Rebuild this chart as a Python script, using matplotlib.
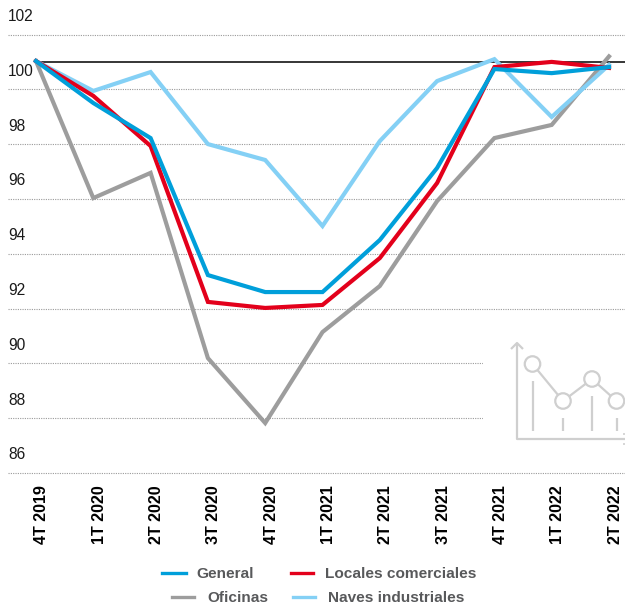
import matplotlib
matplotlib.use("Agg")
import matplotlib.pyplot as plt
from matplotlib.lines import Line2D
from matplotlib.patches import Ellipse, Rectangle

plt.rcParams['font.family'] = ['Liberation Sans', 'DejaVu Sans']

W, H, DPI = 625, 608, 100

periods = ['4T 2019', '1T 2020', '2T 2020', '3T 2020', '4T 2020', '1T 2021',
           '2T 2021', '3T 2021', '4T 2021', '1T 2022', '2T 2022']
general = [101.03, 99.5, 98.22, 93.22, 92.6, 92.6, 94.5, 97.13, 100.74, 100.59, 100.81]
locales = [101.03, 99.76, 97.93, 92.24, 92.02, 92.13, 93.84, 96.58, 100.81, 101.0, 100.78]
oficinas = [101.03, 96.03, 96.95, 90.19, 87.82, 91.14, 92.82, 95.92, 98.22, 98.7, 101.2]
naves = [101.03, 99.94, 100.63, 98.0, 97.42, 95.01, 98.11, 100.3, 101.1, 98.99, 100.89]
y_ticks = [102, 100, 98, 96, 94, 92, 90, 88, 86]
reference_level = 101

BLUE, RED, GREY, LIGHT = '#009fda', '#e3001b', '#9d9d9d', '#84d0f5'

fig = plt.figure(figsize=(W / DPI, H / DPI), dpi=DPI)
ax = fig.add_axes([0, 0, 1, 1])
# data <-> pixel mapping: x index i at 36 + 57.3 i, value v at 34.5 + (102 - v) * 27.4
ax.set_xlim(-36 / 57.3, (W - 36) / 57.3)
ax.set_ylim(102 - (H - 34.5) / 27.4, 102 + 34.5 / 27.4)
ax.axis('off')

def P(x, y):
    return (x / W, 1 - y / H)

for v in y_ticks:
    ax.plot([-28 / 57.3, (W - 36) / 57.3], [v, v], color='#9a9a9a', lw=0.8,
            ls=(0, (1, 1.1)), zorder=1)
    ax.annotate(str(v), (-28 / 57.3, v), xytext=(0, 10.5), textcoords='offset pixels',
                fontsize=11.2, color='#1a1a1a', ha='left', va='bottom')

# icon: white backing hides the gridlines
fig_tr = fig.transFigure
ax.add_patch(Rectangle(P(483, 445), 142 / W, 115 / H, transform=fig_tr, fc='white', ec='none', zorder=2))
ICON = '#cfcfcf'
def L(xs, ys, lw=1.6):
    ax.add_line(Line2D([x / W for x in xs], [1 - y / H for y in ys], transform=fig_tr,
                       color=ICON, lw=lw, zorder=3, solid_capstyle='butt'))
L([517, 517, 625], [344, 439, 439])
L([511, 517, 523], [349, 343, 349])
L([623, 625], [434, 434], lw=1.2)
L([623, 625], [444, 444], lw=1.2)
nodes = [(532.5, 364), (563, 401), (592, 379), (616.5, 401)]
L([n[0] for n in nodes], [n[1] for n in nodes])
for x, top, bot in [(532.5, 381, 431), (563, 418, 431), (592, 396, 431), (616.5, 418, 431)]:
    L([x, x], [top, bot])
for x, y in nodes:
    ax.add_patch(Ellipse((x / W, 1 - y / H), 15.5 / W, 15.5 / H,
                 transform=fig_tr, fc='white', ec=ICON, lw=1.6, zorder=4))

ax.plot([0, (W - 36) / 57.3], [reference_level] * 2, color='black', lw=1.1, zorder=5)

xs = list(range(len(periods)))
ax.plot(xs, oficinas, color=GREY, lw=3, zorder=6, solid_joinstyle='miter')
ax.plot(xs, naves, color=LIGHT, lw=3, zorder=6, solid_joinstyle='miter')
ax.plot(xs, locales, color=RED, lw=3, zorder=7, solid_joinstyle='miter')
ax.plot(xs, general, color=BLUE, lw=3, zorder=8, solid_joinstyle='miter')

for i, lab in enumerate(periods):
    ax.text(i + 6 / 57.3, 85.55, lab, rotation=90, ha='center', va='top',
            fontsize=11.6, fontweight='bold', color='black')

legend = [('General', BLUE, 162, 186, 196, 574), ('Locales comerciales', RED, 291, 313, 325, 574),
          ('Oficinas', GREY, 172, 194, 207, 598), ('Naves industriales', LIGHT, 293, 315, 328, 598)]
for name, c, x0, x1, tx, y in legend:
    ax.add_line(Line2D([x0 / W, x1 / W], [1 - (y - 1) / H] * 2, transform=fig_tr, color=c, lw=2.4, zorder=5))
    ax.text(tx / W, 1 - y / H, name, transform=fig_tr, fontsize=11.1, fontweight='bold',
            color='#58595b', ha='left', va='center')

fig.savefig('out.png', dpi=DPI)
